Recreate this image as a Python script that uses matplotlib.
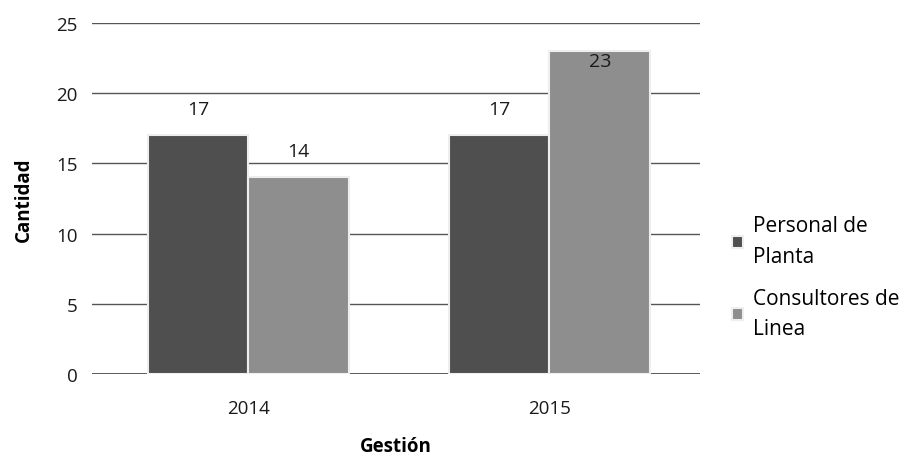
import matplotlib
matplotlib.use('Agg')
import matplotlib.pyplot as plt
import numpy as np

plt.rcParams['font.family'] = ['Open Sans', 'DejaVu Sans']

# Data
years = ['2014', '2015']
series_names = ['Personal de\nPlanta', 'Consultores de\nLinea']
personal_planta = [17, 17]
consultores_linea = [14, 23]
colors = ['#4f4f4f', '#8e8e8e']

fig = plt.figure(figsize=(9.09, 4.6), dpi=100)
ax = fig.add_axes([0.101, 0.185, 0.669, 0.763])

x = np.arange(len(years))
width = 0.335
values = [personal_planta, consultores_linea]
offsets = [-width / 2, width / 2]

for vals, off, col, name in zip(values, offsets, colors, series_names):
    bars = ax.bar(x + off, vals, width, color=col, edgecolor='#eeeeee',
                  linewidth=1.5, label=name, zorder=3)
    for b, v in zip(bars, vals):
        # labels that would go past the top get pulled back down
        y = v + 1.9 if v + 1.9 < 24 else v - 0.7
        ax.text(b.get_x() + b.get_width() / 2, y, str(v), ha='center',
                va='center', fontsize=14, color='#1a1a1a', zorder=4)

ax.set_xlim(-0.52, 1.5)
ax.set_ylim(0, 25)
ax.set_yticks(range(0, 26, 5))
ax.set_xticks(x)
ax.set_xticklabels(years)
ax.tick_params(axis='both', length=0, labelsize=13.5, colors='#1a1a1a')
ax.tick_params(axis='x', pad=18)
ax.tick_params(axis='y', pad=10)
ax.yaxis.grid(True, color='#555555', linewidth=1.0, zorder=0)
for s in ['top', 'right', 'left', 'bottom']:
    ax.spines[s].set_visible(False)
ax.axhline(0, color='#444444', linewidth=1.2, zorder=2)

ax.set_ylabel('Cantidad', fontsize=13.5, fontweight='bold', labelpad=16)
ax.set_xlabel('Gestión', fontsize=13.5, fontweight='bold', labelpad=14)

leg = fig.legend(loc='center left', bbox_to_anchor=(0.785, 0.395), frameon=False,
                 fontsize=15, handlelength=0.5, handleheight=0.5,
                 handletextpad=0.5, labelspacing=1.0)
for t in leg.get_texts():
    t.set_linespacing(1.6)

fig.savefig('out.png', dpi=100)
